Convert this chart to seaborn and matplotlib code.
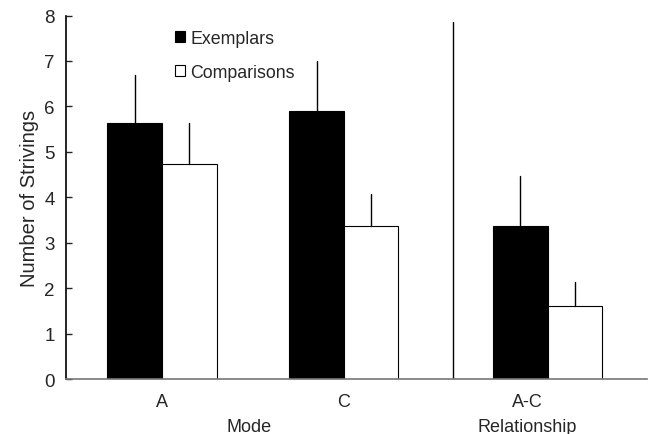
import pandas as pd
import numpy as np
import matplotlib
matplotlib.use('Agg')
import matplotlib.pyplot as plt
import seaborn as sns
from matplotlib.patches import Patch

# 値
groups = ['A', 'C', 'A-C']
group_pos = [0.0, 1.0, 2.12]          # バー群の位置（不等間隔）
tick_pos = [0.0, 1.0, 2.01]           # 目盛ラベルの位置
exemplars = [5.63, 5.89, 3.38]
exemplars_err = [1.07, 1.12, 1.10]
comparisons = [4.73, 3.36, 1.60]
comparisons_err = [0.90, 0.71, 0.53]
series = ['Exemplars', 'Comparisons']

sns.set_style('white')
plt.rcParams['font.family'] = ['Liberation Sans', 'DejaVu Sans']

df = pd.DataFrame({
    'pos': group_pos * 2,
    'value': exemplars + comparisons,
    'err': exemplars_err + comparisons_err,
    'series': [series[0]] * 3 + [series[1]] * 3,
})

fig = plt.figure(figsize=(6.48, 4.35), dpi=100)
ax = fig.add_axes([0.102, 0.126, 0.896, 0.836])

sns.barplot(data=df, x='pos', y='value', hue='series', hue_order=series,
            palette=['black', 'white'], edgecolor='black', linewidth=0.8,
            native_scale=True, width=0.6, errorbar=None, legend=False, ax=ax)

# 上向きだけのエラーバー
for bar in ax.patches:
    cx = bar.get_x() + bar.get_width() / 2
    h = bar.get_height()
    row = df[(np.isclose(df['value'], h))]
    if len(row) == 0:
        continue
    e = row['err'].iloc[0]
    ax.plot([cx, cx], [h, h + e], color='black', lw=1.0, zorder=1)

# 区切り線
ax.plot([1.60, 1.60], [0, 7.85], color='black', lw=1.0)

ax.set_xlim(-0.527, 2.665)
ax.set_ylim(0, 8)
ax.set_xticks(tick_pos)
ax.set_xticklabels(groups, fontsize=13)
ax.set_yticks(range(0, 9))
ax.tick_params(axis='y', direction='in', length=4, width=1, labelsize=13.5, pad=8, left=True)
ax.tick_params(axis='x', length=0, labelsize=13, pad=10)
ax.set_xlabel('')
ax.set_ylabel('Number of Strivings', fontsize=14.5, labelpad=4)

for s in ['top', 'right']:
    ax.spines[s].set_visible(False)
ax.spines['left'].set_color('black')
ax.spines['left'].set_linewidth(1.2)
ax.spines['bottom'].set_color('#777777')
ax.spines['bottom'].set_linewidth(1.2)

fig.text(249 / 648, 1 - 428 / 435, 'Mode', fontsize=13, ha='center', va='center')
fig.text(527 / 648, 1 - 428 / 435, 'Relationship', fontsize=13, ha='center', va='center')

# 凡例
handles = [Patch(facecolor='black', edgecolor='black', lw=0.8),
           Patch(facecolor='white', edgecolor='black', lw=0.8)]
ax.legend(handles, series, loc='upper left', bbox_to_anchor=(0.16, 1.004),
          frameon=False, fontsize=12.8, handlelength=0.55, handleheight=0.55,
          handletextpad=0.3, labelspacing=0.95)

fig.savefig('out.png', dpi=100)
